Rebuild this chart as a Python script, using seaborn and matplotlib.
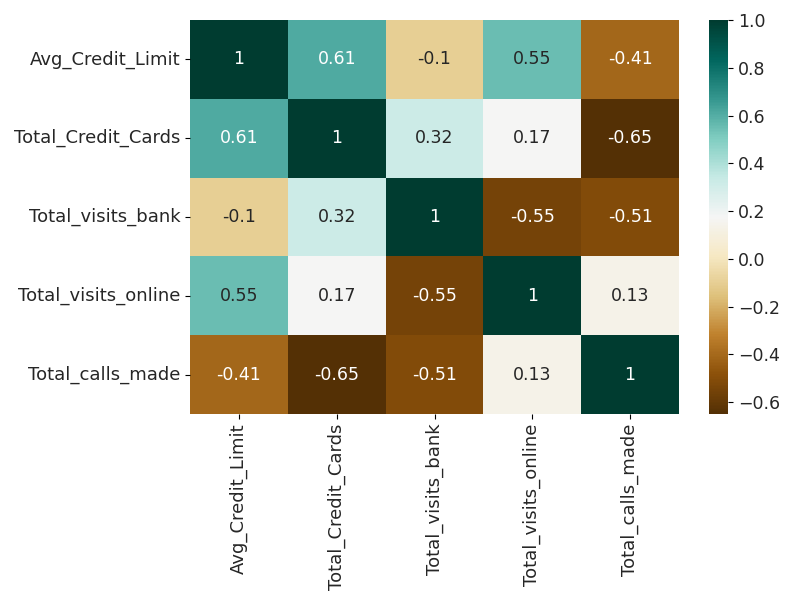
import pandas as pd
import seaborn as sns
import matplotlib.pyplot as plt

# Correlation matrix values
labels = ['Avg_Credit_Limit', 'Total_Credit_Cards', 'Total_visits_bank',
          'Total_visits_online', 'Total_calls_made']
row_avg_credit = [1.00, 0.61, -0.10, 0.55, -0.41]
row_credit_cards = [0.61, 1.00, 0.32, 0.17, -0.65]
row_visits_bank = [-0.10, 0.32, 1.00, -0.55, -0.51]
row_visits_online = [0.55, 0.17, -0.55, 1.00, 0.13]
row_calls_made = [-0.41, -0.65, -0.51, 0.13, 1.00]

corr = pd.DataFrame([row_avg_credit, row_credit_cards, row_visits_bank,
                     row_visits_online, row_calls_made],
                    index=labels, columns=labels)

fig = plt.figure(figsize=(7.87, 5.92), dpi=100)
ax = fig.add_axes([190 / 787, 1 - 414 / 592, 489 / 787, 394 / 592])
cax = fig.add_axes([709 / 787, 1 - 414 / 592, 19 / 787, 394 / 592])

sns.heatmap(corr, annot=True, cmap='BrBG', ax=ax, cbar_ax=cax,
            annot_kws={'fontsize': 12.5})
ax.tick_params(labelsize=13, labelcolor='#262626')
cax.tick_params(labelsize=12.5, labelcolor='#262626')

fig.savefig("out.png", dpi=100)
